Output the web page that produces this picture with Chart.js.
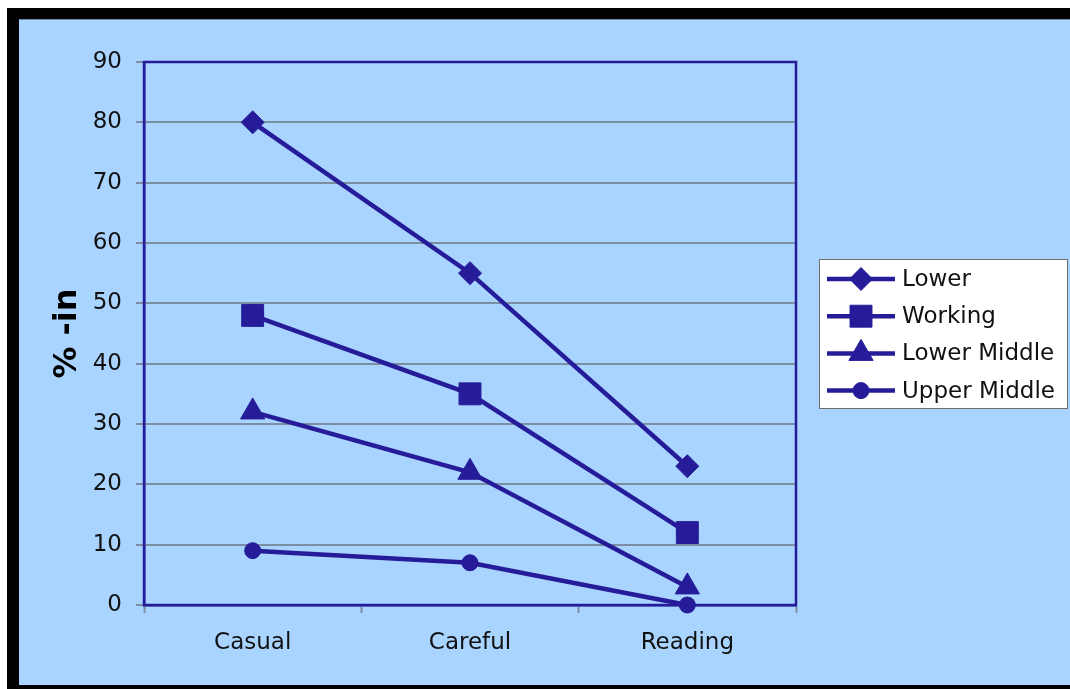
<!DOCTYPE html>
<html>
<head>
<meta charset="utf-8">
<script src="https://cdn.jsdelivr.net/npm/chart.js@4/dist/chart.umd.min.js"></script>
<style>
  html, body { margin: 0; padding: 0; background: #ffffff; }
  #wrap { position: relative; width: 1070px; height: 689px; }
</style>
</head>
<body>
<div id="wrap"><canvas id="c" width="1070" height="689"></canvas></div>
<script>
// Speech styles along the x axis
const categories = ['Casual', 'Careful', 'Reading'];

// Percentage of -in per social class
const lowerValues = [80, 55, 23];
const workingValues = [48, 35, 12];
const lowerMiddleValues = [32, 22, 3];
const upperMiddleValues = [9, 7, 0];

const seriesNames = ['Lower', 'Working', 'Lower Middle', 'Upper Middle'];
const yTicks = [0, 10, 20, 30, 40, 50, 60, 70, 80, 90];

const NAVY = '#261c99';
const GRID = '#7c8fa2';
const BG = '#a9d4ff';
const FONT = '"DejaVu Sans", Verdana, sans-serif';

const markerStyles = [
  { pointStyle: 'rectRot', radius: 11.5 },
  { pointStyle: 'rect', radius: 15.5 },
  { pointStyle: 'triangle', radius: 14 },
  { pointStyle: 'circle', radius: 8 }
];

function makeSeries(label, data, m) {
  return {
    label, data,
    borderColor: NAVY,
    backgroundColor: NAVY,
    borderWidth: 4.5,
    pointStyle: m.pointStyle,
    pointRadius: m.radius,
    pointHoverRadius: m.radius,
    pointBackgroundColor: NAVY,
    pointBorderColor: NAVY,
    pointBorderWidth: 1,
    tension: 0,
    clip: false
  };
}

// Frame, background and plot box
const framePlugin = {
  id: 'frame',
  beforeDraw(chart) {
    const ctx = chart.ctx;
    ctx.save();
    ctx.fillStyle = '#ffffff';
    ctx.fillRect(0, 0, chart.width, chart.height);
    ctx.fillStyle = '#000000';
    ctx.fillRect(7, 8, chart.width - 7, chart.height - 8);
    ctx.fillStyle = BG;
    ctx.fillRect(19, 19, chart.width - 19, 666);
    ctx.fillStyle = '#6f8aa3';
    ctx.fillRect(19, 19, chart.width - 19, 1);
    ctx.restore();
  },
  beforeDatasetsDraw(chart) {
    const { ctx, chartArea: a } = chart;
    ctx.save();
    ctx.strokeStyle = NAVY;
    ctx.lineWidth = 2.5;
    ctx.strokeRect(a.left, a.top, a.right - a.left, a.bottom - a.top);
    ctx.restore();
  }
};

// Boxed legend on the right with line-and-marker samples
const boxLegendPlugin = {
  id: 'boxLegend',
  afterDraw(chart) {
    const ctx = chart.ctx;
    const bx = 819, by = 259, bw = 249, bh = 150;
    ctx.save();
    ctx.fillStyle = '#ffffff';
    ctx.fillRect(bx, by, bw, bh);
    ctx.strokeStyle = '#6e6e6e';
    ctx.lineWidth = 1;
    ctx.strokeRect(bx + 0.5, by + 0.5, bw - 1, bh - 1);
    chart.data.datasets.forEach((ds, i) => {
      const y = 279 + i * 37.2;
      ctx.strokeStyle = NAVY;
      ctx.lineWidth = 4.5;
      ctx.beginPath();
      ctx.moveTo(827, y);
      ctx.lineTo(895, y);
      ctx.stroke();
      ctx.fillStyle = NAVY;
      ctx.strokeStyle = NAVY;
      ctx.lineWidth = 1;
      Chart.helpers.drawPoint(ctx, { pointStyle: ds.pointStyle, radius: ds.pointRadius, rotation: 0, borderWidth: 1 }, 861, y);
      ctx.fillStyle = '#111111';
      ctx.font = '23px ' + FONT;
      ctx.textBaseline = 'middle';
      ctx.textAlign = 'left';
      ctx.fillText(ds.label, 902, y + 1);
    });
    ctx.restore();
  }
};

new Chart(document.getElementById('c'), {
  type: 'line',
  data: {
    labels: categories,
    datasets: [
      makeSeries(seriesNames[0], lowerValues, markerStyles[0]),
      makeSeries(seriesNames[1], workingValues, markerStyles[1]),
      makeSeries(seriesNames[2], lowerMiddleValues, markerStyles[2]),
      makeSeries(seriesNames[3], upperMiddleValues, markerStyles[3])
    ]
  },
  options: {
    responsive: false,
    animation: false,
    devicePixelRatio: 1,
    layout: { padding: { left: 0, top: 62, right: 274, bottom: 0 } },
    plugins: {
      legend: { display: false },
      tooltip: { enabled: false }
    },
    scales: {
      x: {
        type: 'category',
        offset: true,
        afterFit(scale) { scale.height = 84; },
        grid: {
          offset: true,
          drawOnChartArea: false,
          drawTicks: true,
          tickLength: 8,
          tickColor: GRID,
          tickWidth: 2
        },
        border: { display: true, color: NAVY, width: 2.5 },
        ticks: {
          color: '#111111',
          font: { family: FONT, size: 23 },
          padding: 16,
          maxRotation: 0
        }
      },
      y: {
        min: 0,
        max: 90,
        afterFit(scale) { scale.width = 144; },
        afterBuildTicks(scale) { scale.ticks = yTicks.map(v => ({ value: v })); },
        grid: {
          color: GRID,
          lineWidth: 2,
          tickLength: 8,
          tickColor: GRID,
          tickWidth: 2
        },
        border: { display: true, color: NAVY, width: 2.5 },
        ticks: {
          color: '#111111',
          font: { family: FONT, size: 23 },
          padding: 14
        },
        title: {
          display: true,
          text: '% -in',
          color: '#000000',
          font: { family: FONT, size: 32, weight: 'bold' },
          padding: { top: 48, bottom: 0 }
        }
      }
    }
  },
  plugins: [framePlugin, boxLegendPlugin]
});
</script>
</body>
</html>
